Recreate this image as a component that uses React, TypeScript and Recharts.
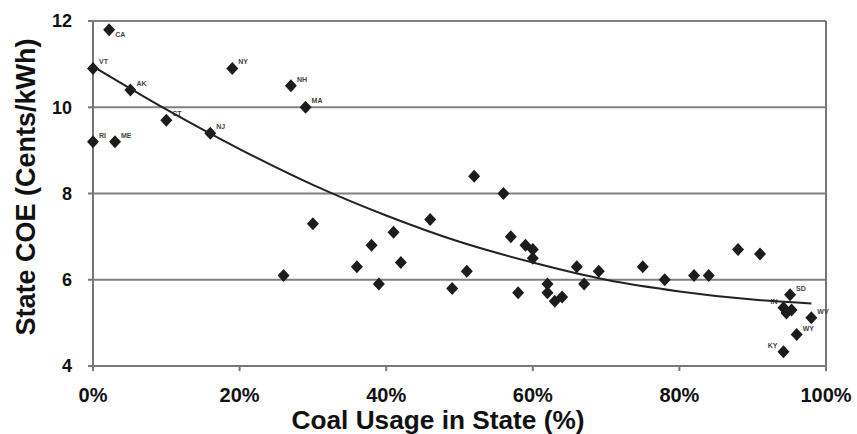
import React from "react";
import {
  ScatterChart,
  Scatter,
  XAxis,
  YAxis,
  CartesianGrid,
  ReferenceLine,
  Label,
} from "recharts";

// coal share of generation (%) per state
const coalShare = [
  2.2, 0, 5.1, 10, 16, 0, 3, 19, 27, 29,
  26, 30, 36, 38, 39, 41, 42, 46, 49, 51,
  52, 56, 57, 58, 59, 60, 60, 62, 62, 63,
  64, 66, 67, 69, 75, 78, 82, 84, 88, 91,
  95.1, 94.2, 95.3, 94.6, 98, 96, 94.2,
];

// cost of electricity (cents/kWh)
const stateCoe = [
  11.8, 10.9, 10.4, 9.7, 9.4, 9.2, 9.2, 10.9, 10.5, 10.0,
  6.1, 7.3, 6.3, 6.8, 5.9, 7.1, 6.4, 7.4, 5.8, 6.2,
  8.4, 8.0, 7.0, 5.7, 6.8, 6.7, 6.5, 5.9, 5.7, 5.5,
  5.6, 6.3, 5.9, 6.2, 6.3, 6.0, 6.1, 6.1, 6.7, 6.6,
  5.65, 5.35, 5.3, 5.23, 5.12, 4.73, 4.33,
];

const stateLabels = [
  "CA", "VT", "AK", "CT", "NJ", "RI", "ME", "NY", "NH", "MA",
  "", "", "", "", "", "", "", "", "", "",
  "", "", "", "", "", "", "", "", "", "",
  "", "", "", "", "", "", "", "", "", "",
  "SD", "IN", "", "", "WV", "WY", "KY",
];

// trend line, read at intervals along the drawn curve
const trendX = [0, 10, 20, 30, 40, 50, 60, 70, 80, 90, 98];
const trendY = [10.95, 9.95, 9.03, 8.2, 7.49, 6.88, 6.4, 6.0, 5.73, 5.54, 5.45];

const xTicks = [0, 20, 40, 60, 80, 100];
const yTicks = [4, 6, 8, 10, 12];

const points = coalShare.map((x, i) => ({ x, y: stateCoe[i], label: stateLabels[i] }));
const trend = trendX.map((x, i) => ({ x, y: trendY[i] }));

const LEFT_LABELS = ["IN", "KY"];
const BELOW_LABELS = ["CA"];

const FONT = "'Liberation Sans', Arial, sans-serif";

function Diamond(props: any) {
  const { cx, cy, payload } = props;
  if (cx == null || cy == null) return <g />;
  const lbl = payload?.label;
  let tx = cx + 6;
  let ty = cy - 4;
  let anchor: "start" | "end" = "start";
  if (lbl && LEFT_LABELS.includes(lbl)) {
    tx = cx - 6;
    anchor = "end";
  }
  if (lbl && BELOW_LABELS.includes(lbl)) {
    ty = cy + 7;
  }
  return (
    <g>
      <polygon
        points={`${cx},${cy - 6.5} ${cx + 6},${cy} ${cx},${cy + 6.5} ${cx - 6},${cy}`}
        fill="#1c1c1c"
      />
      {lbl ? (
        <text x={tx} y={ty} fontSize={7} fontWeight={700} fill="#444" textAnchor={anchor}>
          {lbl}
        </text>
      ) : null}
    </g>
  );
}

export default function App() {
  return (
    <div
      style={{
        position: "absolute",
        left: 0,
        top: 0,
        width: 857,
        height: 434,
        background: "#fff",
        fontFamily: FONT,
      }}
    >
      <ScatterChart
        width={857}
        height={434}
        margin={{ top: 21, right: 31, bottom: 0, left: 0 }}
      >
        <CartesianGrid vertical={false} stroke="#808080" strokeWidth={2} />
        <XAxis
          type="number"
          dataKey="x"
          domain={[0, 100]}
          ticks={xTicks}
          tickFormatter={(v) => `${v}%`}
          height={68}
          stroke="#777"
          strokeWidth={2}
          tickSize={5}
          tickMargin={17}
          tick={{ fontSize: 20, fontWeight: 700, fill: "#111", fontFamily: FONT }}
        >
          <Label
            content={() => (
              <text
                x={438}
                y={429}
                textAnchor="middle"
                fontSize={26}
                fontWeight={700}
                fill="#111"
                fontFamily={FONT}
                textLength={293}
                lengthAdjust="spacingAndGlyphs"
              >
                Coal Usage in State (%)
              </text>
            )}
          />
        </XAxis>
        <YAxis
          type="number"
          dataKey="y"
          domain={[4, 12]}
          ticks={yTicks}
          width={93}
          stroke="#777"
          strokeWidth={2}
          tickSize={5}
          tickMargin={16}
          tick={{ fontSize: 18, fontWeight: 700, fill: "#111", fontFamily: FONT }}
        >
          <Label
            content={() => (
              <text
                x={35}
                y={187}
                transform="rotate(-90 35 187)"
                textAnchor="middle"
                fontSize={27}
                fontWeight={700}
                fill="#111"
                fontFamily={FONT}
                textLength={297}
                lengthAdjust="spacingAndGlyphs"
              >
                State COE (Cents/kWh)
              </text>
            )}
          />
        </YAxis>
        <ReferenceLine x={100} stroke="#777" strokeWidth={2} />
        <Scatter
          data={points}
          shape={(p: any) => <Diamond {...p} />}
          isAnimationActive={false}
        />
        <Scatter
          data={trend}
          line={{ stroke: "#222", strokeWidth: 2 }}
          lineJointType="monotoneX"
          shape={() => <g />}
          isAnimationActive={false}
        />
      </ScatterChart>
    </div>
  );
}
